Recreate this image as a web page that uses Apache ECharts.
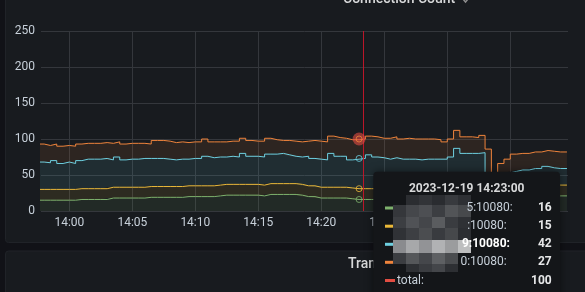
<!DOCTYPE html>
<html><head><meta charset="utf-8">
<script src="https://cdn.jsdelivr.net/npm/echarts@6/dist/echarts.min.js"></script>
<style>html,body{margin:0;padding:0;background:#111217}#c{width:585px;height:292px}</style>
</head><body><div id="c"></div>
<script>
// sampling: every 30 s starting 2023-12-19 13:57:30 (local)
const startParts = [2023, 11, 19, 13, 57, 30];
const stepMs = 30000;
const axisStartParts = [2023, 11, 19, 13, 57, 45];
const axisEndParts = [2023, 11, 19, 14, 39, 35];
const cursorParts = [2023, 11, 19, 14, 23, 20];
const hoverIndex = 51;
const tooltipTitle = '2023-12-19 14:23:00';
const tickLabels = ['14:00', '14:05', '14:10', '14:15', '14:20', '14:25', '14:30', '14:35'];

// series values (stacked: green, yellow, cyan, orange)
const greenVals = [15,15,15,15,15,15, 16,16,16,16,16, 18,18,18,18,18,18, 19,19,19,19,19,19,
  20,20,20,20,20, 21, 22,22,22,22,22,22, 21, 23,23,23,23,23, 22, 20,20, 18,18,18,18,18, 17,
  16,16,16,16,16,16,16,16,16,16,16, 17,17,17,17,17, 18,18,18,18,18,18, 15, 19, 20,20,20,20,
  21,21,21,21,21,21,21];
const yellowVals = [15,15,15,15,15,15, 15,15,15,15,15, 15,15,15,15,15,15, 15,15,15,15,15,15,
  15,15,15,15,15, 15, 15,15,15,15,15,15, 15, 15,15,15,15,15, 15, 15,15, 15,15,15,15,15, 15,
  15,15,15,15,15,15,15,15,15,15,15, 15,15,15,15,15, 15,15,15,15,15,15, 15, 15, 15,15,15,15,
  15,15,15,15,15,15,15];
const cyanVals = [38,37,40,36,38,36, 39,41,41,41,42, 38,42,38,39,39,40, 39,39,39,38,37,38,
  37,38,38,41,39, 39, 38,39,38,43,39,39, 39, 41,41,42,40,38, 38, 41,38, 39,38,47,43,43, 39,
  41,42,47,44,43,41,43,41,41,41,40, 40,40,40,40,43, 54,47,47,47,48,14, 10, 16, 18,20,22,22,
  23,23,26,24,23,23,23];
const orangeVals = [25,24,23,24,23,24, 23,22,22,22,22, 23,21,22,22,22,21, 20,25,25,25,24,24,
  23,23,23,24,22, 21, 21,21,22,21,22,21, 22, 22,20,18,20,21, 21, 21,25, 25,25,24,26,25, 28,
  27,27,26,28,27,29,29,28,29,28,29, 28,28,27,24,25, 25,23,23,22,24,39, 8, 16, 19,24,23,23,
  23,23,22,23,23,23,23];

const seriesNames = ['green', 'yellow', 'cyan', 'orange'];
const seriesColors = ['#7eb26d', '#eab839', '#6ed0e0', '#ef843c'];
const totalColor = '#e24d42';
const tooltipValues = ['16', '15', '42', '27', '100'];
const tooltipLabels = ['5:10080:', ':10080:', '9:10080:', '0:10080:', 'total:'];

const mk = p => new Date(p[0], p[1], p[2], p[3], p[4], p[5]).getTime();
const t0 = mk(startParts);
const ts = greenVals.map((_, i) => t0 + i * stepMs);
const tickValues = tickLabels.map(s => {
  const [h, m] = s.split(':').map(Number);
  return mk([2023, 11, 19, h, m, 0]);
});
const valueLists = [greenVals, yellowVals, cyanVals, orangeVals];
const totals = greenVals.map((_, i) => valueLists.reduce((s, a) => s + a[i], 0));

const gridColor = '#34373c';
const textColor = '#c7d0d9';
const font = 'Roboto, "Open Sans", sans-serif';

const lineSeries = valueLists.map((vals, k) => ({
  name: seriesNames[k], type: 'line', stack: 'conn', step: 'end', xAxisIndex: 0,
  data: vals.map((v, i) => [ts[i], v]),
  showSymbol: false, symbol: 'none', silent: true, animation: false,
  lineStyle: { color: seriesColors[k], width: 1 },
  itemStyle: { color: seriesColors[k] },
  areaStyle: { color: seriesColors[k], opacity: 0.1 },
  z: 3
}));

// hover markers from stacked values at hoverIndex
let acc = 0;
const ringData = valueLists.map((vals, k) => {
  acc += vals[hoverIndex];
  return { value: [ts[hoverIndex], acc], itemStyle: { borderColor: seriesColors[k] } };
});

const fmtTime = v => { const d = new Date(v); return String(d.getHours()).padStart(2, '0') + ':' + String(d.getMinutes()).padStart(2, '0'); };

const option = {
  backgroundColor: '#111217',
  animation: false,
  grid: { left: 41, right: 17, top: 31, bottom: 81 },
  xAxis: [
    {
      type: 'time', min: mk(axisStartParts), max: mk(axisEndParts), position: 'bottom',
      axisLine: { show: false }, axisTick: { show: false },
      axisLabel: { show: false }, splitLine: { show: false }
    },
    {
      type: 'value', min: mk(axisStartParts), max: mk(axisEndParts), position: 'bottom', offset: 0,
      axisLine: { show: false },
      axisTick: { show: false, customValues: tickValues },
      axisLabel: { color: textColor, fontSize: 12, fontFamily: font, margin: 6,
        customValues: tickValues, formatter: fmtTime },
      splitLine: { show: true, lineStyle: { color: gridColor, width: 1 } }
    }
  ],
  yAxis: {
    type: 'value', min: 0, max: 250, interval: 50,
    axisLine: { show: false }, axisTick: { show: false },
    axisLabel: { color: textColor, fontSize: 12, fontFamily: font, margin: 6 },
    splitLine: { show: true, lineStyle: { color: gridColor, width: 1 } }
  },
  series: lineSeries.concat([
    {
      name: 'total', type: 'scatter', silent: true, z: 5, xAxisIndex: 0,
      data: [[ts[hoverIndex], totals[hoverIndex]]],
      symbolSize: 13, itemStyle: { color: totalColor, opacity: 0.6 },
      markLine: {
        silent: true, symbol: ['none', 'none'], animation: false,
        label: { show: false },
        lineStyle: { color: '#c4162a', width: 1, type: 'solid', opacity: 0.95 },
        data: [{ xAxis: mk(cursorParts) }]
      }
    },
    {
      name: 'hover', type: 'scatter', silent: true, z: 6, xAxisIndex: 0,
      data: ringData, symbolSize: 6,
      itemStyle: { color: 'rgba(0,0,0,0)', borderWidth: 1 }
    }
  ])
};

// ---------- decorations: panels, titles, tooltip ----------
const mosaicCols = [393, 406, 419, 432, 445, 458, 471];
const mosaicRows = [195, 205, 217, 228, 240, 253, 264, 272];
const mosaic = [
  [null, '#2b2d31', '#323438', '#2a2c30', '#383a3e', '#2e3034'],
  ['#35373b', '#45474b', '#4d4f53', '#3c3e42', '#525457', '#47494c'],
  ['#3c3e42', '#505256', '#44464a', '#5a5c5f', '#3a3c40', '#2f3135'],
  ['#303236', '#3d3f43', '#4b4d50', '#393b3f', '#46484b', '#2c2e32'],
  ['#8a8b8e', '#a7a8aa', '#929396', '#b1b2b4', '#9b9c9e', '#bdbebf'],
  ['#3b3d41', '#55575a', '#45474b', '#5e6063', '#4a4c4f', null],
  [null, '#2e3034', '#3a3c40', '#44464a', '#2d2f33', null]
];
const rowY = [208, 226.2, 244.3, 262.3, 280.5];
const labelRight = [512.7, 506.7, 510, 506.7];
const swatchColors = seriesColors.concat([totalColor]);

const graphics = [
  { type: 'rect', z: -5, silent: true, shape: { x: 5.5, y: -10, width: 640, height: 252.5, r: 3 },
    style: { fill: '#181b1f', stroke: '#202328', lineWidth: 1 } },
  { type: 'rect', z: -5, silent: true, shape: { x: 5.5, y: 251, width: 640, height: 60, r: 3 },
    style: { fill: '#181b1f', stroke: '#202328', lineWidth: 1 } },
  { type: 'text', z: 10, silent: true, x: 343, y: -1,
    style: { text: 'Connection Count', fill: '#d8d9da', font: '500 14px ' + font, verticalAlign: 'middle', align: 'left' } },
  { type: 'polyline', z: 10, silent: true, shape: { points: [[463, -1], [465.5, 2], [468, -1]] },
    style: { stroke: '#8e8e8e', lineWidth: 1.5, fill: null } },
  { type: 'text', z: 10, silent: true, x: 348, y: 264.5,
    style: { text: 'Tran', fill: '#d8d9da', font: '500 14px ' + font, verticalAlign: 'middle', align: 'left' } },
  { type: 'rect', z: 100, silent: true, shape: { x: 373.3, y: 171.7, width: 186.7, height: 140, r: 4 },
    style: { fill: '#141619', shadowBlur: 8, shadowColor: 'rgba(0,0,0,0.5)' } },
  { type: 'text', z: 101, silent: true, x: 466.7, y: 188.5,
    style: { text: tooltipTitle, fill: '#d8d9da', font: 'bold 12px ' + font, align: 'center', verticalAlign: 'middle' } }
];
rowY.forEach((y, r) => {
  graphics.push({ type: 'rect', z: 101, silent: true, shape: { x: 385, y: y - 1.5, width: 10, height: 3 },
    style: { fill: swatchColors[r] } });
  const bold = r === 2;
  if (r < 4) {
    graphics.push({ type: 'text', z: 103, silent: true, x: labelRight[r], y: y,
      style: { text: tooltipLabels[r], fill: bold ? '#ffffff' : '#c7d0d9', font: (bold ? 'bold ' : '') + '12px ' + font,
        align: 'right', verticalAlign: 'middle' } });
  } else {
    graphics.push({ type: 'text', z: 103, silent: true, x: 397, y: y,
      style: { text: tooltipLabels[r], fill: '#c7d0d9', font: '12px ' + font, align: 'left', verticalAlign: 'middle' } });
  }
  graphics.push({ type: 'text', z: 103, silent: true, x: 551.7, y: y,
    style: { text: tooltipValues[r], fill: '#e6e7e8', font: 'bold 12px ' + font, align: 'right', verticalAlign: 'middle' } });
});
mosaic.forEach((row, r) => {
  row.forEach((c, k) => {
    if (!c) return;
    graphics.push({ type: 'rect', z: 102, silent: true,
      shape: { x: mosaicCols[k], y: mosaicRows[r], width: mosaicCols[k + 1] - mosaicCols[k], height: mosaicRows[r + 1] - mosaicRows[r] },
      style: { fill: c } });
  });
});
option.graphic = { elements: graphics };

const chart = echarts.init(document.getElementById('c'), null, { renderer: 'canvas', width: 585, height: 292 });
chart.setOption(option);
</script>
</body></html>
